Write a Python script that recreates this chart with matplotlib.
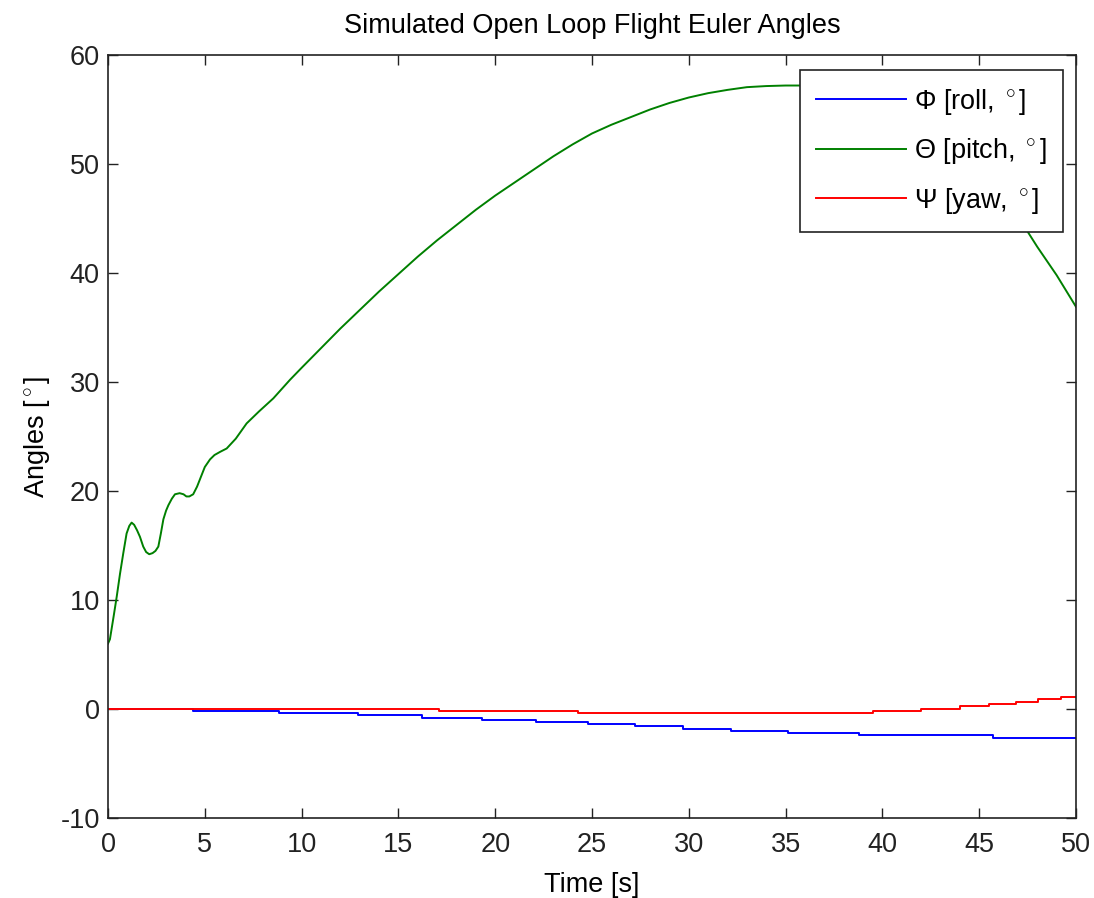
import matplotlib
matplotlib.use("Agg")
import matplotlib.pyplot as plt
import numpy as np

plt.rcParams['font.family'] = ['Liberation Sans', 'DejaVu Sans']
plt.rcParams['mathtext.fontset'] = 'custom'
plt.rcParams['mathtext.rm'] = 'Liberation Sans'
plt.rcParams['mathtext.it'] = 'Liberation Sans'
plt.rcParams['axes.unicode_minus'] = False

# --- data ---
# pitch (Theta), smooth curve
pitch_t = [0.0, 0.1, 0.3, 0.45, 0.62, 0.79, 0.96, 1.1, 1.22, 1.35, 1.5, 1.65, 1.82, 1.97,
           2.13, 2.3, 2.45, 2.6, 2.73, 2.86, 3.0, 3.12, 3.3, 3.46, 3.7, 3.9, 4.05, 4.2,
           4.4, 4.6, 4.8, 5.0, 5.27, 5.5, 5.8, 6.13, 6.6, 7.16, 7.8, 8.54, 9.4,
           10, 11, 12, 13, 14, 15, 16, 17, 18, 19, 20, 21, 22, 23, 24, 25, 26, 27, 28,
           29, 30, 31, 32, 33, 34, 35, 36, 37, 38, 39, 40, 41, 42, 43, 44, 45, 46, 47,
           47.5, 48, 49, 50]
pitch = [6.0, 6.4, 8.6, 10.3, 12.4, 14.3, 16.1, 16.8, 17.1, 16.9, 16.4, 15.8, 14.9, 14.4,
         14.2, 14.3, 14.5, 14.9, 16.1, 17.4, 18.2, 18.7, 19.3, 19.7, 19.8, 19.7, 19.5, 19.5,
         19.7, 20.4, 21.3, 22.2, 22.9, 23.3, 23.6, 23.9, 24.8, 26.2, 27.3, 28.5, 30.2,
         31.3, 33.1, 34.9, 36.6, 38.3, 39.9, 41.5, 43.0, 44.4, 45.8, 47.1, 48.3, 49.5,
         50.7, 51.8, 52.8, 53.6, 54.3, 55.0, 55.6, 56.1, 56.5, 56.8, 57.05, 57.15, 57.2,
         57.2, 57.1, 56.9, 56.5, 56.0, 55.3, 54.4, 53.2, 51.8, 50.1, 47.8, 45.3,
         43.8, 42.4, 39.8, 36.9]

# roll (Phi), quantized steps
roll_t = [0.0, 4.37, 8.85, 12.9, 16.2, 19.3, 22.1, 24.8, 27.2, 29.7, 32.2, 35.1, 38.8, 45.7, 50.0]
roll = [0.0, -0.16, -0.37, -0.59, -0.80, -1.01, -1.19, -1.38, -1.60, -1.81, -2.02, -2.20,
        -2.42, -2.63, -2.63]

# yaw (Psi), quantized steps
yaw_t = [0.0, 17.1, 24.3, 39.5, 42.0, 44.0, 45.5, 46.9, 48.05, 49.2, 50.0]
yaw = [0.0, -0.16, -0.37, -0.16, 0.03, 0.24, 0.46, 0.67, 0.88, 1.10, 1.10]

labels = [r'$\Phi$ [roll, $^\circ$]', r'$\Theta$ [pitch, $^\circ$]', r'$\Psi$ [yaw, $^\circ$]']

# --- figure ---
fig = plt.figure(figsize=(10.94, 8.98), dpi=100)
ax = fig.add_axes([108 / 1094, 1 - 818 / 898, 968 / 1094, 763 / 898])

fs = 19.5
ax.plot(roll_t, roll, color=(0, 0, 1), lw=1.4, drawstyle='steps-post', label=labels[0])
ax.plot(pitch_t, pitch, color=(0, 0.5, 0), lw=1.4, label=labels[1])
ax.plot(yaw_t, yaw, color=(1, 0, 0), lw=1.4, drawstyle='steps-post', label=labels[2])

ax.set_xlim(0, 50)
ax.set_ylim(-10, 60)
ax.set_xticks(np.arange(0, 51, 5))
ax.set_yticks(np.arange(-10, 61, 10))
ax.tick_params(direction='in', top=True, right=True, length=7, width=1.0,
               labelsize=fs, colors='#222222')
ax.tick_params(axis='x', pad=10)
ax.tick_params(axis='y', pad=6)
for s in ax.spines.values():
    s.set_linewidth(1.2)
    s.set_color('#222222')

ax.set_title('Simulated Open Loop Flight Euler Angles', fontsize=fs, pad=16)
ax.set_xlabel('Time [s]', fontsize=fs, labelpad=10)
ax.set_ylabel(r'Angles [$^\circ$]', fontsize=fs, labelpad=6)

leg = ax.legend(loc='upper right', bbox_to_anchor=(0.9866, 0.980), borderaxespad=0,
                fontsize=fs, fancybox=False, framealpha=1, edgecolor='#222222',
                handlelength=3.3, handletextpad=0.3, labelspacing=0.72, borderpad=0.6)
leg.get_frame().set_linewidth(1.2)

fig.savefig('out.png', dpi=100, facecolor='white')
